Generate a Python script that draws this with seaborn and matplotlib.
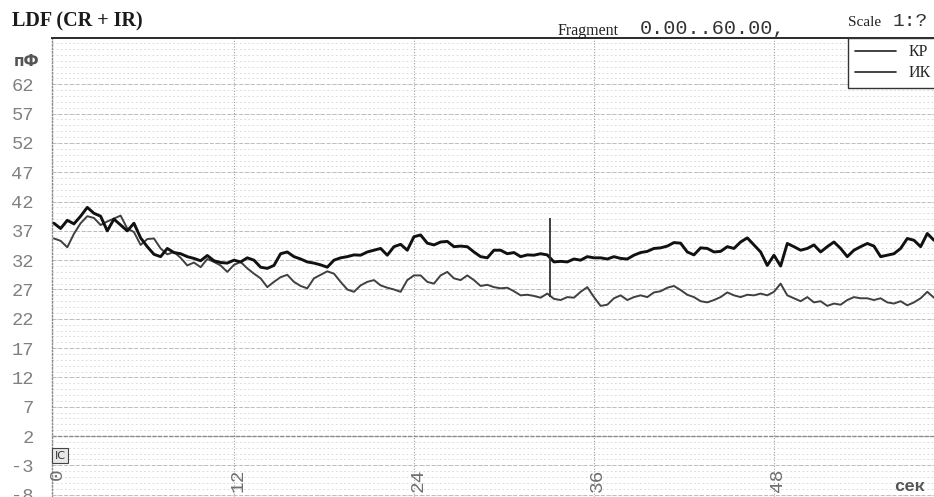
import numpy as np
import pandas as pd
import matplotlib
matplotlib.use("Agg")
import matplotlib.pyplot as plt
import matplotlib.transforms as mtransforms
import seaborn as sns

# LDF perfusion traces, sampled every 4/9 s over the 0..60 s fragment
SAMPLE_STEP = 4 / 9

kp = [
    38.3, 37.4, 38.8, 38.2, 39.5, 41.0, 40.0, 39.5, 37.0, 39.0, 38.0, 37.0, 38.3, 35.8,
    34.3, 33.0, 32.6, 34.0, 33.3, 33.1, 32.6, 32.3, 31.9, 32.8, 31.9, 31.6, 31.5,
    32.0, 31.7, 32.4, 32.0, 30.8, 30.6, 31.1, 33.1, 33.4, 32.6, 32.2, 31.7, 31.5, 31.2,
    30.8, 32.0, 32.4, 32.6, 32.9, 32.85, 33.4, 33.7, 34.0, 32.85, 34.3, 34.7, 33.7, 36.0,
    36.3, 34.9, 34.6, 35.1, 35.2, 34.3, 34.4, 34.3, 33.4, 32.6, 32.4, 33.7, 33.7, 33.1,
    33.3, 32.6, 32.9, 32.85, 33.1, 32.9, 31.7, 31.8, 31.7, 32.2, 32.0, 32.6, 32.4,
    32.4, 32.2, 32.6, 32.3, 32.2, 32.85, 33.3, 33.5, 34.0, 34.1, 34.4, 35.0, 34.9, 33.4,
    32.9, 34.1, 34.0, 33.4, 33.5, 34.3, 34.0, 35.1, 35.8, 34.6, 33.4, 31.1, 32.85, 31.0,
    34.85, 34.3, 33.7, 34.0, 34.6, 33.4, 34.3, 35.1, 34.0, 32.6, 33.7, 34.3, 34.85, 34.4,
    32.6, 32.85, 33.1, 34.0, 35.7, 35.4, 34.3, 36.55, 35.4,
]

ik = [
    35.7, 35.3, 34.2, 36.5, 38.3, 39.5, 39.2, 38.0, 38.6, 39.1, 39.6, 37.4, 36.8, 34.6,
    35.6, 35.7, 34.0, 33.0, 33.4, 32.4, 31.1, 31.6, 30.8, 32.2, 31.7, 31.1, 30.0,
    31.2, 31.7, 30.6, 29.7, 28.9, 27.4, 28.3, 29.1, 29.5, 28.3, 27.6, 27.2, 28.9, 29.5,
    30.1, 29.7, 28.3, 27.0, 26.6, 27.7, 28.3, 28.6, 27.7, 27.3, 27.0, 26.6, 28.6, 29.4,
    29.4, 28.3, 28.0, 29.4, 30.0, 28.9, 28.6, 29.4, 28.6, 27.6, 27.8, 27.4, 27.2, 27.3,
    26.7, 26.0, 26.1, 25.9, 25.6, 26.3, 25.4, 25.2, 25.7, 25.6, 26.6, 27.4, 25.7,
    24.2, 24.4, 25.5, 26.0, 25.2, 25.7, 26.0, 25.7, 26.5, 26.7, 27.3, 27.6, 26.9, 26.1,
    25.7, 25.0, 24.8, 25.2, 25.7, 26.5, 26.0, 25.7, 26.1, 26.0, 26.3, 26.0, 26.6, 28.0,
    26.0, 25.5, 25.0, 25.7, 24.8, 25.0, 24.2, 24.6, 24.4, 25.2, 25.7, 25.5, 25.5, 25.2,
    25.5, 24.8, 24.6, 25.0, 24.3, 24.8, 25.5, 26.6, 25.6,
]

series_names = ["КР", "ИК"]
y_ticks = [62, 57, 52, 47, 42, 37, 32, 27, 22, 17, 12, 7, 2, -3, -8]
x_ticks = [0, 12, 24, 36, 48]
marker_time = 33.07
marker_span = [25.7, 39.2]

t = np.arange(len(kp)) * SAMPLE_STEP
df = pd.DataFrame({
    "t": np.concatenate([t, t]),
    "value": kp + ik,
    "series": [series_names[0]] * len(kp) + [series_names[1]] * len(ik),
})

sns.set_style("white")
plt.rcParams["font.family"] = ["DejaVu Sans"]

fig = plt.figure(figsize=(9.34, 4.97), dpi=100, facecolor="white")
ax = fig.add_axes([52 / 934, 0.0, 1 - 52 / 934, 1 - 38 / 497])
ax.set_facecolor("white")

# faint ruled background
for v in np.arange(-8, 70, 1):
    ax.axhline(v, color="#d4d4d4", lw=0.6, ls=(0, (2, 3)), zorder=0)
for v in y_ticks:
    ax.axhline(v, color="#bdbdbd", lw=0.7, ls=(0, (4, 2)), zorder=0)
ax.axhline(2, color="#8a8a8a", lw=1.0, ls=(0, (3, 1)), zorder=1)
for xv in x_ticks[1:]:
    ax.axvline(xv, color="#a0a0a0", lw=0.8, ls=(0, (1, 1.5)), zorder=0)

sns.lineplot(data=df[df.series == series_names[1]], x="t", y="value", ax=ax,
             color="#404040", lw=1.4, label=series_names[1], zorder=3)
sns.lineplot(data=df[df.series == series_names[0]], x="t", y="value", ax=ax,
             color="#111111", lw=2.1, label=series_names[0], zorder=4)

ax.vlines(marker_time, marker_span[0], marker_span[1], color="#333333", lw=1.3, zorder=5)

ax.set_xlim(-0.13, 58.67)
ax.set_ylim(-8.4, 69.9)
ax.set_xlabel("")
ax.set_ylabel("")

ax.set_yticks(y_ticks)
ax.set_yticklabels([str(v) for v in y_ticks], family="Liberation Mono", fontsize=13.5, color="#808080")
ax.tick_params(axis="y", length=0, pad=13)
ax.set_xticks([])

for s in ["right", "bottom"]:
    ax.spines[s].set_visible(False)
ax.spines["left"].set_color("#8a8a8a")
ax.spines["left"].set_linestyle((0, (1, 1.5)))
ax.spines["left"].set_linewidth(1.0)
ax.spines["top"].set_color("#2a2a2a")
ax.spines["top"].set_linewidth(1.4)

# rotated time labels along the bottom edge
trans = mtransforms.blended_transform_factory(ax.transData, ax.transAxes)
for xv in x_ticks:
    ax.text(xv + 0.25, 0.062, str(xv), transform=trans, rotation=90, ha="center", va="top",
            family="Liberation Mono", fontsize=14, color="#6f6f6f", clip_on=False)
ax.text(0.972, 0.022, "сек", transform=ax.transAxes, ha="center", va="center",
        family="Liberation Mono", fontsize=12.5, fontweight="bold", color="#555555")
ax.text(0.003, 0.09, "IC", transform=ax.transAxes, ha="left", va="center",
        family="DejaVu Sans", fontsize=8, color="#333333",
        bbox=dict(boxstyle="square,pad=0.25", fc="#e8e8e8", ec="#444444", lw=0.8))

# units label above the scale
fig.text(14 / 934, 1 - 61 / 497, "пФ", ha="left", va="center", family="DejaVu Sans",
         fontsize=11, fontweight="bold", color="#555555")

# header line
fig.text(12 / 934, 1 - 21 / 497, "LDF (CR + IR)", ha="left", va="center",
         family="Liberation Serif", fontsize=14.5, fontweight="bold", color="#1a1a1a")
fig.text(558 / 934, 1 - 31 / 497, "Fragment", ha="left", va="center",
         family="Liberation Serif", fontsize=11.5, color="#222222")
fig.text(640 / 934, 1 - 28 / 497, "0.00..60.00,", ha="left", va="center",
         family="Liberation Mono", fontsize=14.5, color="#333333")
fig.text(848 / 934, 1 - 23 / 497, "Scale", ha="left", va="center",
         family="Liberation Serif", fontsize=11, color="#222222")
fig.text(893 / 934, 1 - 22 / 497, "1:?", ha="left", va="center",
         family="Liberation Mono", fontsize=14, color="#333333")

handles, labels = ax.get_legend_handles_labels()
order = [labels.index(series_names[0]), labels.index(series_names[1])]
leg = ax.legend([handles[i] for i in order], [labels[i] for i in order],
                loc="upper right", bbox_to_anchor=(1.004, 1.0), borderaxespad=0.0,
                frameon=True, fancybox=False,
                edgecolor="#333333", framealpha=1, handlelength=2.6, handletextpad=0.8,
                borderpad=0.4, labelspacing=0.3,
                prop={"family": "Liberation Serif", "size": 11.5})
leg.get_frame().set_linewidth(1.0)
for line in leg.get_lines():
    line.set_color("#222222")
    line.set_linewidth(1.2)

fig.savefig("out.png", dpi=100, facecolor="white")
